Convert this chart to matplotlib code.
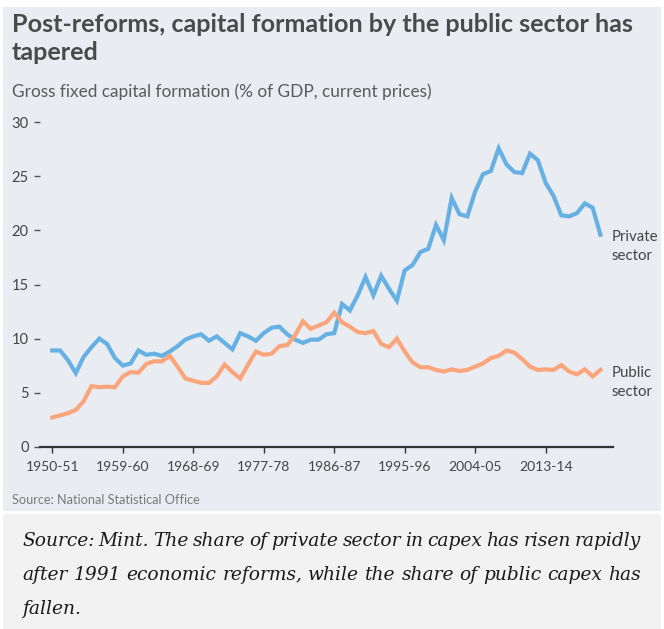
import matplotlib
matplotlib.use('Agg')
import matplotlib.pyplot as plt
from matplotlib.patches import Rectangle

# ---- data ----
private = [8.9, 8.9, 8.0, 6.8, 8.3, 9.2, 10.0, 9.5, 8.2, 7.5,
           7.7, 8.9, 8.5, 8.6, 8.4, 8.8, 9.3, 9.9, 10.2, 10.4,
           9.8, 10.2, 9.6, 9.0, 10.5, 10.2, 9.8, 10.5, 11.0, 11.1,
           10.4, 9.9, 9.6, 9.9, 9.9, 10.4, 10.5, 13.2, 12.6, 14.0,
           15.7, 14.0, 15.8, 14.6, 13.5, 16.3, 16.8, 18.0, 18.3, 20.5,
           19.1, 23.0, 21.5, 21.3, 23.6, 25.2, 25.5, 27.6, 26.1, 25.4,
           25.3, 27.1, 26.5, 24.4, 23.2, 21.4, 21.3, 21.6, 22.5, 22.1,
           19.6]
public = [2.7, 2.9, 3.1, 3.4, 4.2, 5.6, 5.5, 5.55, 5.5, 6.5,
          6.9, 6.85, 7.65, 7.9, 7.9, 8.4, 7.4, 6.3, 6.1, 5.9,
          5.9, 6.5, 7.6, 6.9, 6.3, 7.6, 8.8, 8.5, 8.6, 9.3,
          9.4, 10.3, 11.6, 10.9, 11.2, 11.5, 12.4, 11.5, 11.1, 10.6,
          10.5, 10.7, 9.5, 9.2, 10.0, 8.8, 7.8, 7.35, 7.35, 7.1,
          6.95, 7.15, 7.0, 7.1, 7.4, 7.7, 8.2, 8.4, 8.9, 8.7,
          8.1, 7.4, 7.1, 7.15, 7.1, 7.55, 6.95, 6.7, 7.15, 6.5,
          7.1]
tick_labels = ['1950-51', '1959-60', '1968-69', '1977-78', '1986-87',
               '1995-96', '2004-05', '2013-14']
tick_pos = [0, 9, 18, 27, 36, 45, 54, 63]
y_ticks = [0, 5, 10, 15, 20, 25, 30]

W, H = 664, 629
DPI = 100
PANEL = '#e9ecf1'
CAPBG = '#f2f2f2'
TEXT = '#454545'
BLUE = '#66b0e4'
ORANGE = '#fba57c'

fig = plt.figure(figsize=(W / DPI, H / DPI), dpi=DPI, facecolor='white')

def fx(px):
    return px / W

def fy(py):
    return 1 - py / H

# backgrounds
fig.patches.append(Rectangle((fx(3), fy(511)), fx(658), (511 - 7) / H,
                             transform=fig.transFigure, facecolor=PANEL,
                             edgecolor='none', zorder=-5))
fig.patches.append(Rectangle((fx(3), fy(629)), fx(658), (629 - 514) / H,
                             transform=fig.transFigure, facecolor=CAPBG,
                             edgecolor='none', zorder=-5))

SANS = ['Lato', 'DejaVu Sans']

# title / subtitle
fig.text(fx(12), fy(25), 'Post-reforms, capital formation by the public sector has',
         family=SANS, weight='bold', fontsize=18.1, color='#4a4a4a', va='center')
fig.text(fx(12), fy(53), 'tapered', family=SANS, weight='bold', fontsize=18.1,
         color='#4a4a4a', va='center')
fig.text(fx(12), fy(92), 'Gross fixed capital formation (% of GDP, current prices)',
         family=SANS, fontsize=12.4, color='#5a5a5a', va='center')
fig.text(fx(12), fy(500), 'Source: National Statistical Office', family=SANS,
         fontsize=9.2, color='#7a7a7a', va='center')

# axes
ax = fig.add_axes([fx(40), fy(446.7), fx(613) - fx(40), (446.7 - 122.3) / H])
ax.set_facecolor('none')
x = list(range(len(private)))
ax.plot(x, private, color=BLUE, lw=3.0, solid_joinstyle='miter', clip_on=False, zorder=3)
ax.plot(x, public, color=ORANGE, lw=3.0, solid_joinstyle='miter', clip_on=False, zorder=3)
ax.set_xlim(-1.57, 71.6)
ax.set_ylim(0, 30)
for s in ['top', 'right', 'left']:
    ax.spines[s].set_visible(False)
ax.spines['bottom'].set_color('#333333')
ax.spines['bottom'].set_linewidth(1.6)
ax.spines['bottom'].set_zorder(4)
ax.set_xticks(tick_pos)
ax.set_xticklabels(tick_labels)
ax.set_yticks(y_ticks)
ax.set_yticklabels([str(v) for v in y_ticks])
ax.tick_params(axis='x', direction='out', length=4, width=1, color='#333333',
               labelsize=10.0, labelcolor=TEXT, pad=6)
ax.tick_params(axis='y', direction='out', length=4, width=1, color='#555555',
               labelsize=10.6, labelcolor=TEXT, pad=4)
for lab in ax.get_xticklabels() + ax.get_yticklabels():
    lab.set_family(SANS)

ax.text(70 + 1.45, 18.5, 'Private\nsector', family=SANS, fontsize=10.8,
        color=TEXT, va='center', ha='left', linespacing=1.45)
ax.text(70 + 1.45, 5.9, 'Public\nsector', family=SANS, fontsize=10.8,
        color=TEXT, va='center', ha='left', linespacing=1.45)

# caption with justification
SERIF = ['DejaVu Serif']
cap_lines = ['Source: Mint. The share of private sector in capex has risen rapidly',
             'after 1991 economic reforms, while the share of public capex has',
             'fallen.']
cap_y = [541, 575, 609]
left, right = 22, 641
cap_fs = 13.4
renderer = fig.canvas.get_renderer()
for i, (line, yy) in enumerate(zip(cap_lines, cap_y)):
    words = line.split(' ')
    texts = [fig.text(0, fy(yy), w, family=SERIF, style='italic', fontsize=cap_fs,
                      color='#1a1a1a', va='center', ha='left') for w in words]
    widths = [t.get_window_extent(renderer).width for t in texts]
    space = fig.text(0, 0, 'a a', family=SERIF, style='italic', fontsize=cap_fs)
    sw = space.get_window_extent(renderer).width
    space2 = fig.text(0, 0, 'aa', family=SERIF, style='italic', fontsize=cap_fs)
    sw = sw - space2.get_window_extent(renderer).width
    space.remove(); space2.remove()
    if i < len(cap_lines) - 1 and len(words) > 1:
        gap = (right - left - sum(widths)) / (len(words) - 1)
    else:
        gap = sw
    pos = left
    for t, w in zip(texts, widths):
        t.set_x(fx(pos))
        pos += w + gap

fig.savefig('out.png', dpi=DPI, facecolor='white')
